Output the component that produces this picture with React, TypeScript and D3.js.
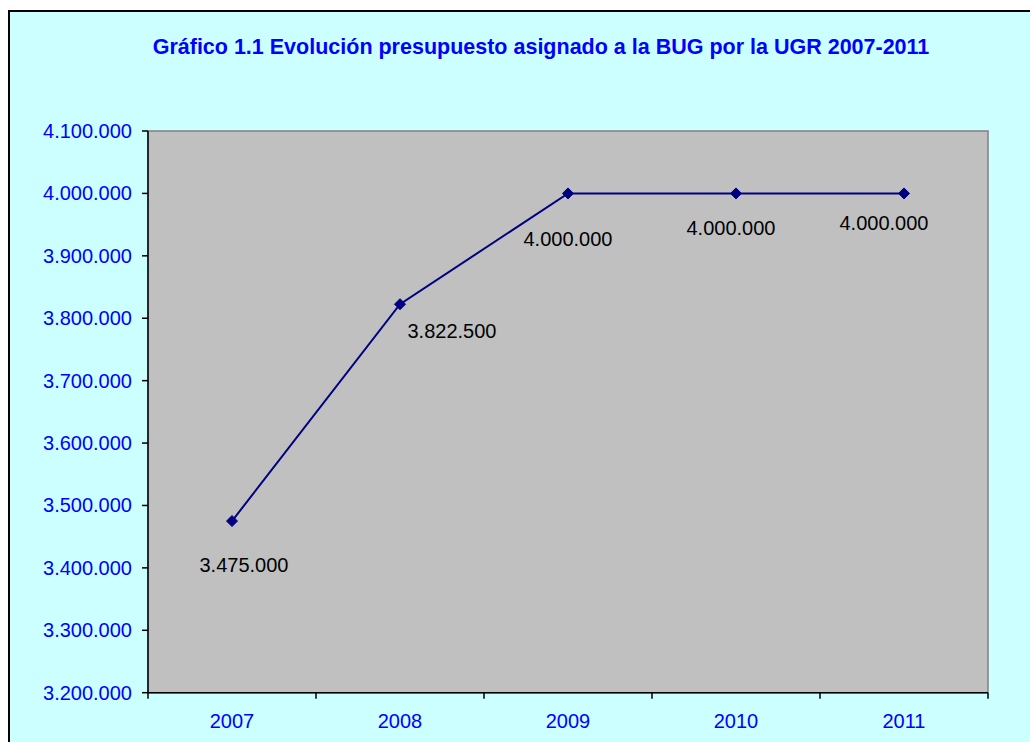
import React from "react";
import * as d3 from "d3";

const categories = ["2007", "2008", "2009", "2010", "2011"];
const values = [3475000, 3822500, 4000000, 4000000, 4000000];
const yTicks = [3200000, 3300000, 3400000, 3500000, 3600000, 3700000, 3800000, 3900000, 4000000, 4100000];
const titleText = "Gráfico 1.1 Evolución presupuesto asignado a la BUG por la UGR 2007-2011";
// label placement offsets (label centre / baseline relative to point)
const labelDx = [12, 52, 0, -5, -20];
const labelDy = [51, 34, 53, 42, 37];

const W = 1030;
const H = 742;
const plot = { left: 148, top: 131, right: 988, bottom: 692.7 };
const FONT = "'Liberation Sans', Arial, sans-serif";

const fmt = (v: number) => d3.format(",")(v).replace(/,/g, ".");

export default function App() {
  const x = d3.scaleBand<string>().domain(categories).range([plot.left, plot.right]);
  const y = d3.scaleLinear().domain([3200000, 4100000]).range([plot.bottom, plot.top]);
  const cx = (c: string) => (x(c) as number) + x.bandwidth() / 2;
  const line = d3
    .line<number>()
    .x((_, i) => cx(categories[i]))
    .y((d) => y(d));
  const bounds = [...categories.map((c) => x(c) as number), plot.right];

  return (
    <div style={{ position: "fixed", left: 0, top: 0, width: W, height: H, background: "#fff" }}>
      <svg width={W} height={H} style={{ display: "block" }}>
        <rect x={9} y={11} width={W + 10} height={H + 10} fill="#CCFFFF" stroke="#000" strokeWidth={2} />
        <text x={541} y={54} textAnchor="middle" fontFamily={FONT} fontWeight="bold" fontSize={21.5} fill="#0000FF">
          {titleText}
        </text>
        <rect
          x={plot.left}
          y={plot.top}
          width={plot.right - plot.left}
          height={plot.bottom - plot.top}
          fill="#C0C0C0"
          stroke="#808080"
          strokeWidth={1.5}
        />
        {/* axes */}
        <line x1={plot.left} x2={plot.left} y1={plot.top} y2={plot.bottom} stroke="#000" strokeWidth={1.5} />
        <line x1={plot.left} x2={plot.right} y1={plot.bottom} y2={plot.bottom} stroke="#000" strokeWidth={1.5} />
        {yTicks.map((t) => (
          <g key={t}>
            <line x1={plot.left - 6} x2={plot.left} y1={y(t)} y2={y(t)} stroke="#000" strokeWidth={1.5} />
            <text x={132} y={y(t) + 7} textAnchor="end" fontFamily={FONT} fontSize={20} fill="#0000FF">
              {fmt(t)}
            </text>
          </g>
        ))}
        {bounds.map((b, i) => (
          <line key={i} x1={b} x2={b} y1={plot.bottom} y2={plot.bottom + 6} stroke="#000" strokeWidth={1.5} />
        ))}
        {categories.map((c) => (
          <text key={c} x={cx(c)} y={728} textAnchor="middle" fontFamily={FONT} fontSize={20} fill="#0000FF">
            {c}
          </text>
        ))}
        {/* series */}
        <path d={line(values) || ""} fill="none" stroke="#000080" strokeWidth={2} />
        {values.map((v, i) => {
          const px = cx(categories[i]);
          const py = y(v);
          return (
            <path
              key={i}
              d={`M${px},${py - 5.5}L${px + 5.5},${py}L${px},${py + 5.5}L${px - 5.5},${py}Z`}
              fill="#000080"
              stroke="#000080"
              strokeWidth={1}
            />
          );
        })}
        {values.map((v, i) => (
          <text
            key={"l" + i}
            x={cx(categories[i]) + labelDx[i]}
            y={y(v) + labelDy[i]}
            textAnchor="middle"
            fontFamily={FONT}
            fontSize={20}
            fill="#000"
          >
            {fmt(v)}
          </text>
        ))}
      </svg>
    </div>
  );
}
